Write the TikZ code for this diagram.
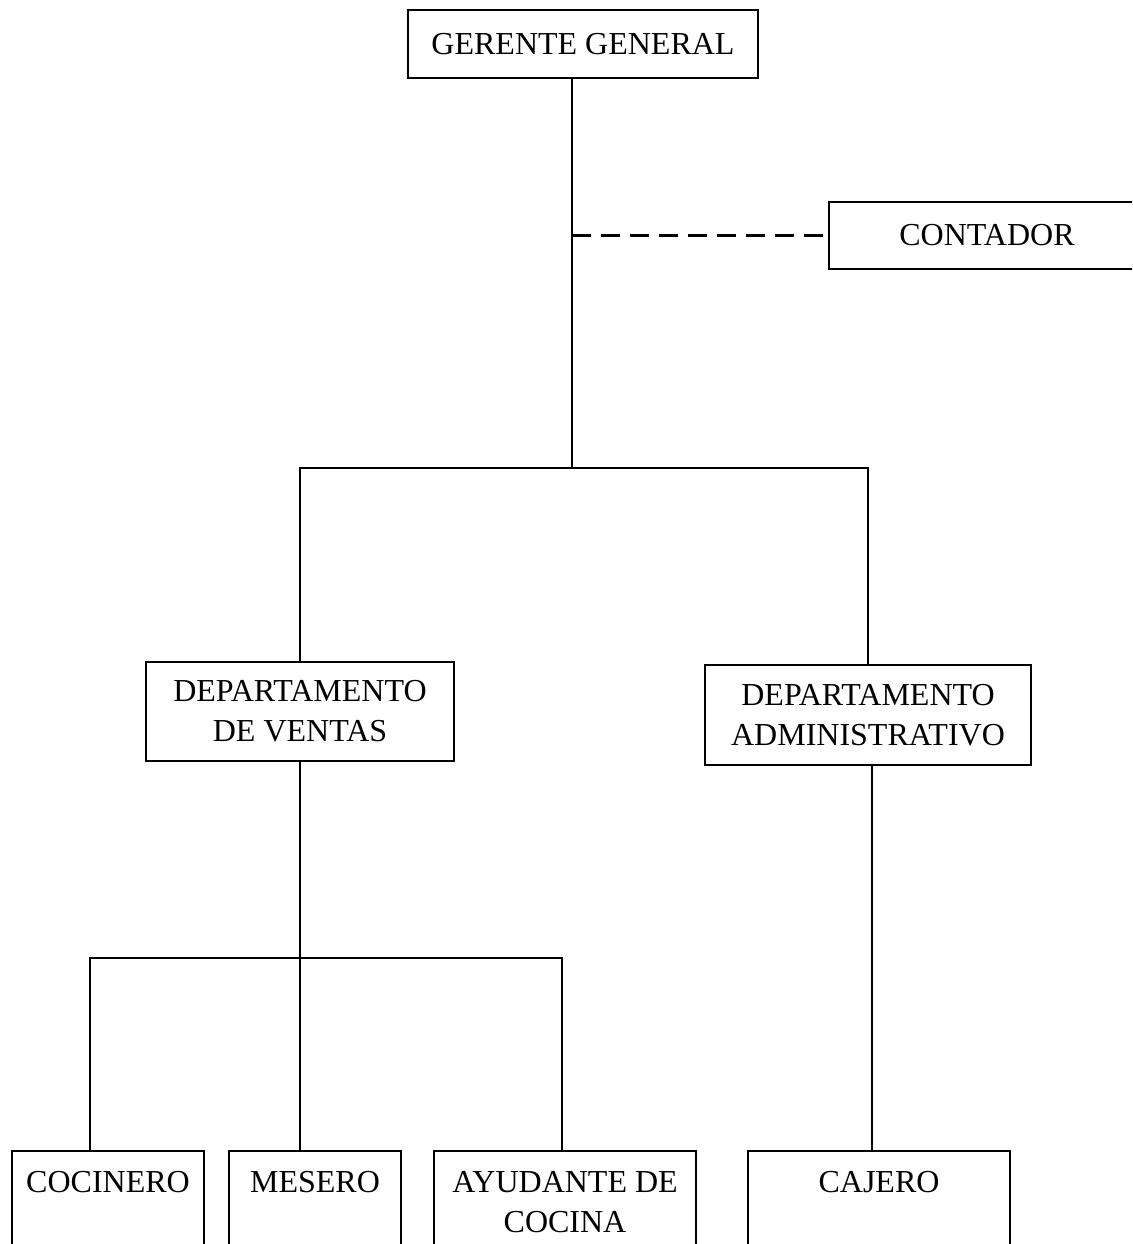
\documentclass[tikz,border=0pt]{standalone}
\usepackage{fontspec}
\setmainfont{Liberation Serif}
\begin{document}
\begin{tikzpicture}[x=1pt,y=-1pt,
  box/.style={draw, line width=2.6pt, inner sep=0pt, outer sep=0pt,
    font=\fontsize{32}{40}\selectfont, align=center},
  txt/.style={inner sep=0pt, font=\fontsize{32}{40}\selectfont, align=center},
  conn/.style={line width=2.3pt},
  dashconn/.style={line width=2.3pt, dash pattern=on 19pt off 10pt}]
\useasboundingbox (0,0) rectangle (1132,1244);
\clip (0,0) rectangle (1132,1244);
\fill[white] (0,0) rectangle (1132,1244);

% boxes
\node[box, minimum width=350pt, minimum height=68pt] (gg) at (583,44) {GERENTE GENERAL};
\node[box, minimum width=316pt, minimum height=67pt] (ct) at (987,235.5) {CONTADOR};
\node[box, minimum width=308pt, minimum height=99pt] (ven) at (300,711.5) {DEPARTAMENTO\\DE VENTAS};
\node[box, minimum width=326pt, minimum height=100pt] (adm) at (868,715) {DEPARTAMENTO\\ADMINISTRATIVO};

\node[box, minimum width=192pt, minimum height=150pt, anchor=north] (coc) at (108,1151) {};
\node[box, minimum width=172pt, minimum height=150pt, anchor=north] (mes) at (315,1151) {};
\node[box, minimum width=262pt, minimum height=150pt, anchor=north] (ayu) at (565,1151) {};
\node[box, minimum width=262pt, minimum height=150pt, anchor=north] (caj) at (879,1151) {};

\node[txt, anchor=north] (coct) at ([yshift=-20pt]coc.north) {COCINERO};
\node[txt, anchor=north] (mest) at ([yshift=-20pt]mes.north) {MESERO};
\node[txt, anchor=north] (ayut) at ([yshift=-20pt]ayu.north) {AYUDANTE DE\\COCINA};
\node[txt, anchor=north] (cajt) at ([yshift=-20pt]caj.north) {CAJERO};

% connectors
\coordinate (t) at (572,468);
\draw[conn] (gg.south -| t) -- (t);
\draw[dashconn] (ct.west -| t) -- (ct.west);
\draw[conn] (ven.north) |- (t) -| (adm.north);

\coordinate (b) at (300,958);
\coordinate (bl) at (90,958);
\coordinate (br) at (562,958);
\draw[conn] (ven.south) -- (b) -- (b |- mes.north);
\draw[conn] (bl |- coc.north) -- (bl) -- (br) -- (br |- ayu.north);

\coordinate (a) at (872,956);
\draw[conn] (a |- adm.south) -- (a) -- (a |- caj.north);
\end{tikzpicture}
\end{document}
